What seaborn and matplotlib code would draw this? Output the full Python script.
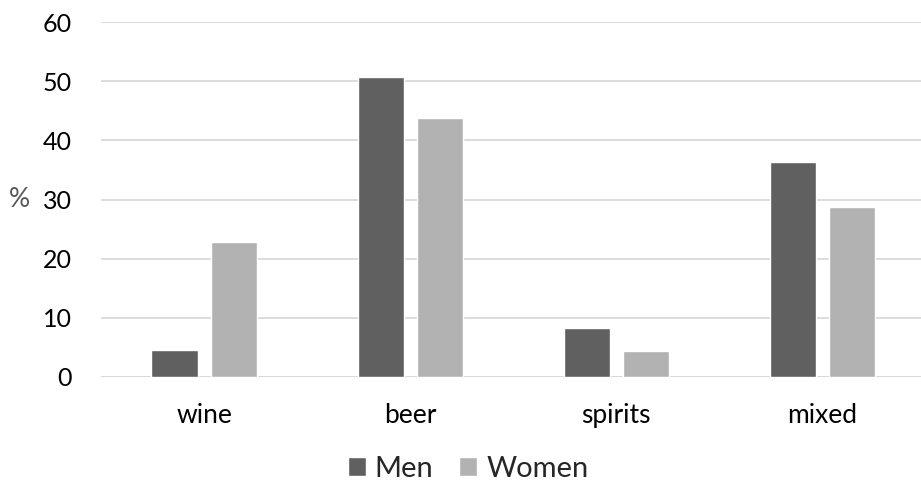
import matplotlib
matplotlib.use("Agg")
import matplotlib.pyplot as plt
import seaborn as sns
import pandas as pd

categories = ["wine", "beer", "spirits", "mixed"]
men = [4.5, 50.7, 8.3, 36.3]
women = [22.8, 43.8, 4.4, 28.8]
groups = ["Men", "Women"]
yticks = [0, 10, 20, 30, 40, 50, 60]

df = pd.DataFrame({
    "drink": categories * 2,
    "share": men + women,
    "sex": [groups[0]] * len(categories) + [groups[1]] * len(categories),
})

sns.set_theme(style="white")
plt.rcParams["font.family"] = ["Lato", "DejaVu Sans"]

fig = plt.figure(figsize=(9.21, 4.88), dpi=100)
ax = fig.add_axes([101 / 921, 111 / 488, 820 / 921, 355 / 488])

palette = {"Men": "#606060", "Women": "#B2B2B2"}
sns.barplot(data=df, x="drink", y="share", hue="sex", order=categories,
            hue_order=groups, palette=palette, width=0.573, gap=0.22,
            saturation=1, ax=ax, zorder=3)

ax.set_ylim(0, 60)
ax.set_xlim(-0.5, 3.48)
ax.set_yticks(yticks)
ax.yaxis.grid(True, color="#D9D9D9", linewidth=1.3, zorder=0)
ax.xaxis.grid(False)
for side in ["top", "right", "left", "bottom"]:
    ax.spines[side].set_visible(False)
ax.axhline(0, color="#D9D9D9", linewidth=1.3, zorder=1)

ax.tick_params(axis="y", length=0, pad=21, labelsize=18, labelcolor="#000000")
ax.tick_params(axis="x", length=0, pad=19, labelsize=19, labelcolor="#000000")
ax.set_xlabel("")
ax.set_ylabel("%", rotation=0, fontsize=19, color="#595959", va="center")
ax.yaxis.set_label_coords(-0.099, 0.5)

handles, labels = ax.get_legend_handles_labels()
ax.get_legend().remove()
fig.legend(handles, labels, loc="center", bbox_to_anchor=(468 / 921, 19 / 488),
           ncol=2, frameon=False, fontsize=21, handlelength=0.62, handleheight=0.62,
           handletextpad=0.3, columnspacing=0.9)

fig.savefig("out.png", dpi=100, facecolor="white")
